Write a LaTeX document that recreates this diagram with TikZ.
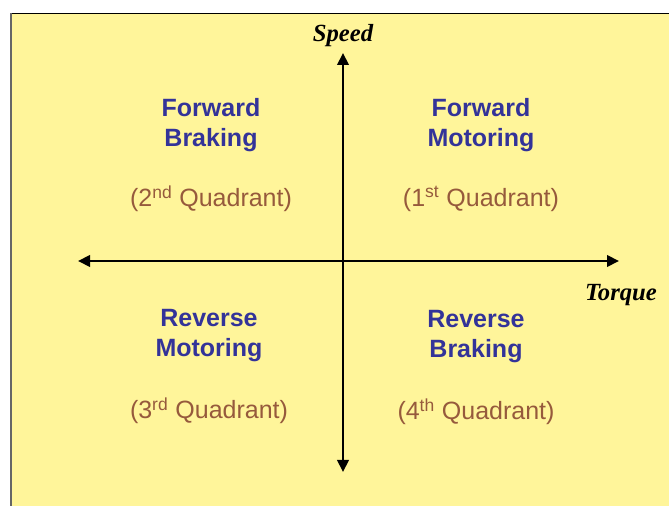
\documentclass[tikz,border=0pt]{standalone}
\usepackage{fontspec}
\setmainfont{Liberation Sans}
\newfontfamily\timesfont{Liberation Serif}
\usetikzlibrary{arrows.meta,positioning}
\definecolor{bgyellow}{RGB}{255,245,154}
\definecolor{modeblue}{RGB}{51,51,153}
\definecolor{quadbrown}{RGB}{150,90,60}

\tikzset{
  mode/.style={align=center, text=modeblue, font=\fontsize{18.75}{22.5}\selectfont\bfseries},
  quad/.style={text=quadbrown, font=\fontsize{18.75}{22.5}\selectfont},
  axislabel/.style={font=\fontsize{18.5}{22}\selectfont\timesfont\bfseries\itshape},
  axis/.style={line width=2.1pt, -{Triangle[length=9pt, width=8.5pt]}}
}

\begin{document}
\begin{tikzpicture}[x=0.75pt, y=-0.75pt]
  \useasboundingbox (0,0) rectangle (669,506);
  \begin{scope}
    \clip (0,0) rectangle (669,506);
    \fill[bgyellow] (10,13) rectangle (690,530);
    \draw[line width=0.75pt] (10,13.5) -- (690,13.5);
    \draw[gray!80!black, line width=1.5pt] (10.5,13) -- (10.5,530);
  \end{scope}

  % axes
  \coordinate (origin) at (343,261);
  \coordinate (top) at (343,53);
  \coordinate (bottom) at (343,472);
  \coordinate (left) at (78,261);
  \coordinate (right) at (619,261);
  \draw[axis] (origin) -- (top);
  \draw[axis] (origin) -- (bottom);
  \draw[axis] (origin) -- (left);
  \draw[axis] (origin) -- (right);

  \node[axislabel] (speed) at (343,36) {Speed};
  \node[axislabel] (torque) at (621,295) {Torque};

  % quadrants
  \node[mode] (fb) at (211,125) {Forward\\Braking};
  \node[quad] (q2) at (211,199) {(2\textsuperscript{nd} Quadrant)};
  \node[mode] (fm) at (481,125) {Forward\\Motoring};
  \node[quad] (q1) at (481,199) {(1\textsuperscript{st} Quadrant)};
  \node[mode] (rm) at (209,336) {Reverse\\Motoring};
  \node[quad] (q3) at (209,411) {(3\textsuperscript{rd} Quadrant)};
  \node[mode] (rb) at (476,337) {Reverse\\Braking};
  \node[quad] (q4) at (476,412) {(4\textsuperscript{th} Quadrant)};
\end{tikzpicture}
\end{document}
